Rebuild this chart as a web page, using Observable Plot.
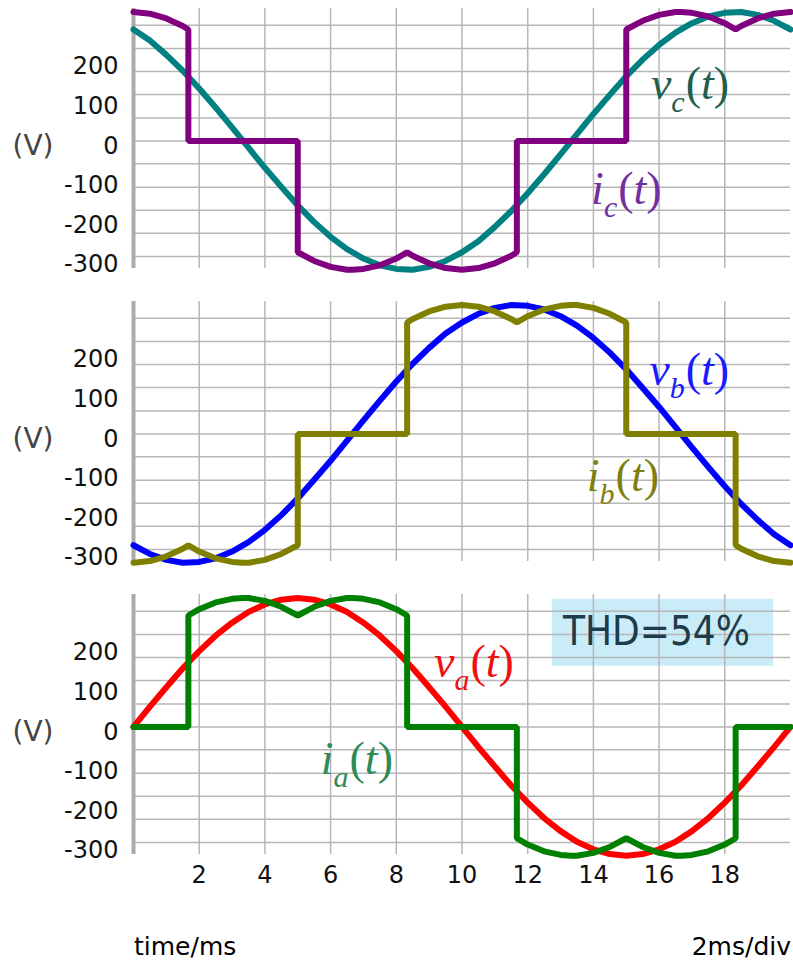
<!DOCTYPE html>
<html><head><meta charset="utf-8">
<script src="https://cdn.jsdelivr.net/npm/d3@7"></script>
<script src="https://cdn.jsdelivr.net/npm/@observablehq/plot@0.6"></script>
<style>
body{margin:0;background:#fff}
#root{position:relative;width:793px;height:960px;overflow:hidden;font-family:"DejaVu Sans",Verdana,sans-serif;background:#fff}
.panel{position:absolute;left:0}
.foot{position:absolute;font-size:25px;line-height:25px;color:#000;white-space:nowrap}
</style>
</head><body><div id="root"></div>
<script>
// time axis (ms) for voltage samples
const T = [0,0.5,1,1.5,2,2.5,3,3.5,4,4.5,5,5.5,6,6.5,7,7.5,8,8.5,9,9.5,10,10.5,11,11.5,12,12.5,13,13.5,14,14.5,15,15.5,16,16.5,17,17.5,18,18.5,19,19.5,20];
// phase voltages (V)
const vA = [0,51,100,148,191,230,263,290,309,321,325,321,309,290,263,230,191,148,100,51,0,-51,-100,-148,-191,-230,-263,-290,-309,-321,-325,-321,-309,-290,-263,-230,-191,-148,-100,-51,0];
const vB = [-281,-303,-318,-325,-323,-314,-297,-273,-242,-205,-163,-116,-68,-17,34,84,132,177,217,253,281,303,318,325,323,314,297,273,242,205,163,116,68,17,-34,-84,-132,-177,-217,-253,-281];
const vC = [281,253,217,177,132,84,34,-17,-68,-116,-163,-205,-242,-273,-297,-314,-323,-325,-318,-303,-281,-253,-217,-177,-132,-84,-34,17,68,116,163,205,242,273,297,314,323,325,318,303,281];
// line currents [t(ms), value]
const iA = [[0,0],[1.67,0],[1.67,281],[2,297],[2.5,314],[3,323],[3.33,325],[3.5,325],[4,318],[4.5,303],[5,281],[5.5,303],[6,318],[6.5,325],[6.67,325],[7,323],[7.5,314],[8,297],[8.33,281],[8.33,0],[11.67,0],[11.67,-281],[12,-297],[12.5,-314],[13,-323],[13.33,-325],[13.5,-325],[14,-318],[14.5,-303],[15,-281],[15.5,-303],[16,-318],[16.5,-325],[16.67,-325],[17,-323],[17.5,-314],[18,-297],[18.33,-281],[18.33,0],[20,0]];
const iB = [[0,-325],[0.5,-321],[1,-309],[1.5,-290],[1.67,-281],[2,-297],[2.5,-314],[3,-323],[3.33,-325],[3.5,-325],[4,-318],[4.5,-303],[5,-281],[5,0],[8.33,0],[8.33,281],[8.5,290],[9,309],[9.5,321],[10,325],[10.5,321],[11,309],[11.5,290],[11.67,281],[12,297],[12.5,314],[13,323],[13.33,325],[13.5,325],[14,318],[14.5,303],[15,281],[15,0],[18.33,0],[18.33,-281],[18.5,-290],[19,-309],[19.5,-321],[20,-325]];
const iC = [[0,325],[0.5,321],[1,309],[1.5,290],[1.67,281],[1.67,0],[5,0],[5,-281],[5.5,-303],[6,-318],[6.5,-325],[6.67,-325],[7,-323],[7.5,-314],[8,-297],[8.33,-281],[8.5,-290],[9,-309],[9.5,-321],[10,-325],[10.5,-321],[11,-309],[11.5,-290],[11.67,-281],[11.67,0],[15,0],[15,281],[15.5,303],[16,318],[16.5,325],[16.67,325],[17,323],[17.5,314],[18,297],[18.33,281],[18.5,290],[19,309],[19.5,321],[20,325]];
// ticks & grid
const xTicks = [2,4,6,8,10,12,14,16,18];
const yTicks = [200,100,0,-100,-200,-300];
const gridY = [-292,-233,-175,-117,-58,0,58,117,175,233,292];
const unitLabel = "(V)";
const thdText = "THD=54%";
const footLeft = "time/ms";
const footRight = "2ms/div";

const panels = [
  {volt: vC, cur: iC, vCol: "#008080", cCol: "#800080",
   labels: [{t:15.75, v:142, m:"v", s:"c", col:"#1f5f4f"}, {t:13.93, v:-122, m:"i", s:"c", col:"#7030a0"}]},
  {volt: vB, cur: iB, vCol: "#0000ff", cCol: "#808000",
   labels: [{t:15.7, v:160, m:"v", s:"b", col:"#1a1aff"}, {t:13.8, v:-108, m:"i", s:"b", col:"#7f7f10"}]},
  {volt: vA, cur: iA, vCol: "#ff0000", cCol: "#008000",
   labels: [{t:9.15, v:163, m:"v", s:"a", col:"#ee1111"}, {t:5.7, v:-81, m:"i", s:"a", col:"#2e8b57"}],
   thd: {t1:12.75, t2:19.49, v1:153, v2:322, tc:15.92, vc:239}}
];
const tops = [0, 293, 586];

const NS = "http://www.w3.org/2000/svg";
function tspan(txt, attrs) {
  const t = document.createElementNS(NS, "tspan");
  t.textContent = txt;
  for (const k in attrs) t.setAttribute(k, attrs[k]);
  return t;
}

function makePanel(cfg, showX) {
  const volt = cfg.volt.map((v, i) => ({t: T[i], v}));
  const cur = cfg.cur.map(([t, v]) => ({t, v}));
  const marks = [];
  if (cfg.thd) marks.push(Plot.rect([cfg.thd], {x1: "t1", x2: "t2", y1: "v1", y2: "v2", fill: "#c9ecf8"}));
  marks.push(Plot.ruleY(gridY, {stroke: "#b7b7b7", strokeWidth: 1.5}));
  marks.push(Plot.ruleX(xTicks, {stroke: "#b7b7b7", strokeWidth: 1.5}));
  marks.push(Plot.ruleX([0], {stroke: "#ababab", strokeWidth: 4}));
  marks.push(Plot.axisY(yTicks, {tickSize: 0, tickPadding: 15, fontSize: 24, dy: 5, label: null, fill: "#111", tickFormat: d => String(d)}));
  marks.push(Plot.text([unitLabel], {frameAnchor: "left", y: () => 0, text: d => d, dx: -121, dy: 5, textAnchor: "start", fontSize: 28, fill: "#444"}));
  marks.push(Plot.line(volt, {x: "t", y: "v", stroke: cfg.vCol, strokeWidth: 6}));
  marks.push(Plot.line(cur, {x: "t", y: "v", stroke: cfg.cCol, strokeWidth: 6, strokeLinejoin: "miter"}));
  for (const L of cfg.labels) {
    marks.push(Plot.text([L], {x: "t", y: "v", text: d => d.m + d.s + "(t)", fill: L.col, fontSize: 46,
      fontFamily: "'Liberation Serif','Times New Roman',serif", textAnchor: "start"}));
  }
  if (cfg.thd) marks.push(Plot.text([cfg.thd], {x: "tc", y: "vc", text: () => thdText, fontSize: 40,
    fontFamily: "'DejaVu Sans Condensed','DejaVu Sans',sans-serif", fill: "#1c3b4b", textAnchor: "middle"}));
  if (showX) marks.push(Plot.axisX(xTicks, {tickSize: 0, tickPadding: 11, fontSize: 24, label: null, fill: "#111"}));
  const svg = Plot.plot({
    width: 793, height: showX ? 320 : 268,
    marginLeft: 133, marginRight: 3, marginTop: 8, marginBottom: showX ? 52 : 0,
    x: showX ? {domain: [0, 20], label: null} : {domain: [0, 20], label: null, axis: null},
    y: {domain: [-322, 334], label: null},
    style: {fontFamily: "'DejaVu Sans',Verdana,sans-serif", fontSize: "22px", color: "#111", background: "transparent", overflow: "visible"},
    marks
  });
  const wanted = cfg.labels.map(L => L.m + L.s + "(t)");
  svg.querySelectorAll("text").forEach(el => {
    const k = wanted.indexOf(el.textContent);
    if (k < 0) return;
    const L = cfg.labels[k];
    el.textContent = "";
    el.append(
      tspan(L.m, {"font-style": "italic"}),
      tspan(L.s, {"font-style": "italic", "font-size": "30px", dy: "13"}),
      tspan("(", {dy: "-13", dx: "1"}),
      tspan("t", {"font-style": "italic"}),
      tspan(")", {})
    );
  });
  return svg;
}

const root = document.getElementById("root");
panels.forEach((cfg, i) => {
  const div = document.createElement("div");
  div.className = "panel";
  div.style.top = tops[i] + "px";
  div.append(makePanel(cfg, i === 2));
  root.append(div);
});
const fl = document.createElement("div");
fl.className = "foot"; fl.style.left = "134px"; fl.style.top = "934px"; fl.textContent = footLeft;
const fr = document.createElement("div");
fr.className = "foot"; fr.style.right = "2px"; fr.style.top = "934px"; fr.textContent = footRight;
root.append(fl, fr);
</script>
</body></html>
